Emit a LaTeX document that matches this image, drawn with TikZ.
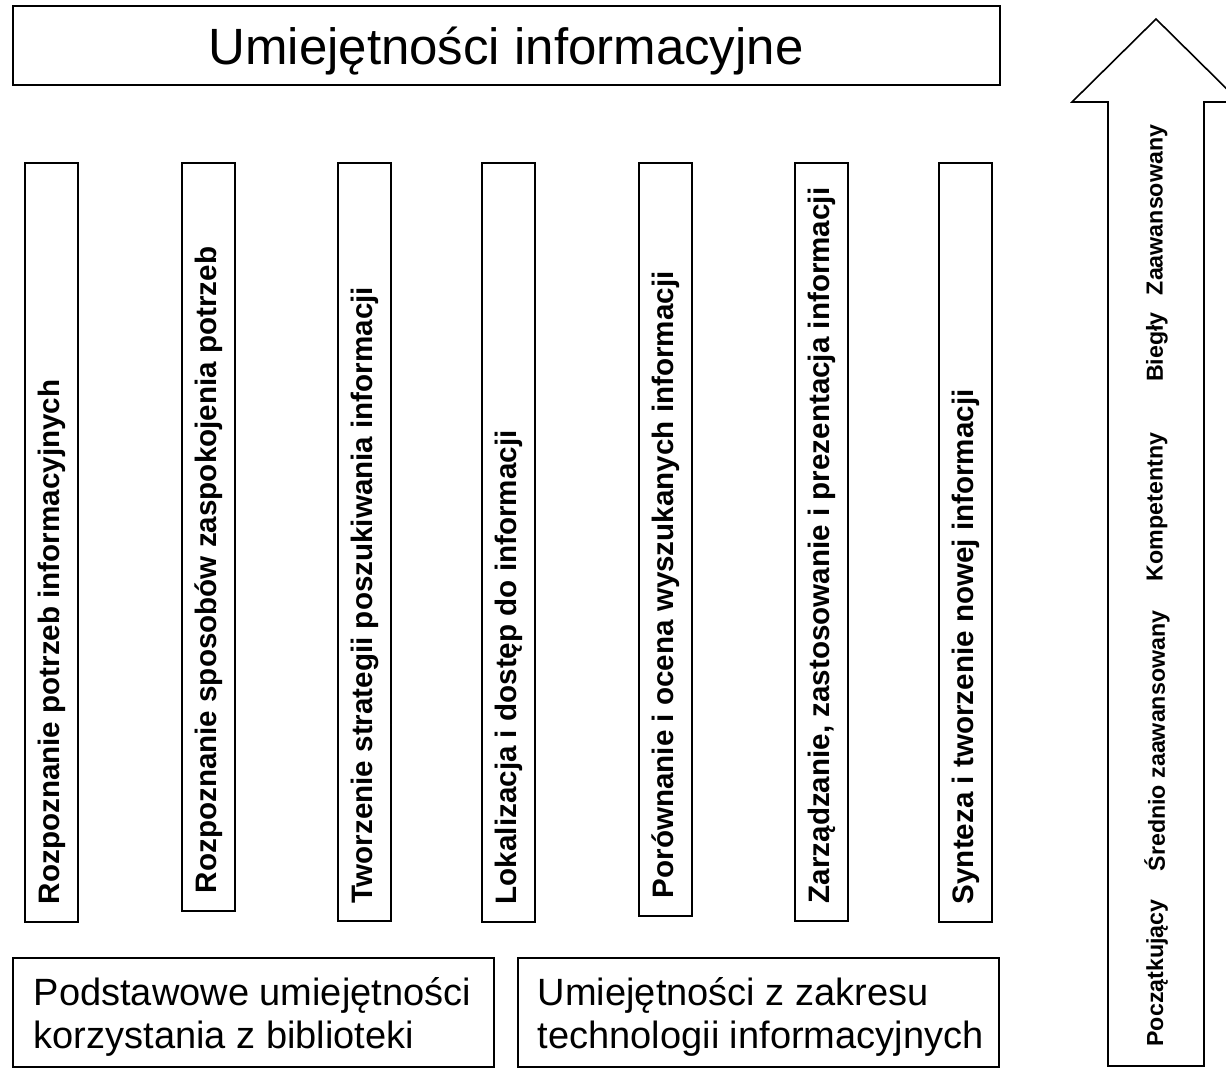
\documentclass[tikz,border=0pt]{standalone}
\usepackage{fontspec}
\setmainfont{Liberation Sans}
\usetikzlibrary{positioning}

\begin{document}
\begin{tikzpicture}[x=0.5pt,y=-0.5pt,line width=0.8pt,
	skill/.style={font=\bfseries\fontsize{14.8}{17}\selectfont,rotate=90,anchor=west,inner sep=0pt},
	level/.style={font=\bfseries\fontsize{11.6}{13}\selectfont,rotate=90,inner sep=0pt},
	base/.style={font=\fontsize{19}{21.5}\selectfont,align=left,anchor=north west,inner sep=0pt}]
	\useasboundingbox (0,0) rectangle (1226,1068);
	\draw (13,6) rectangle (1000,85); \node[font=\fontsize{25.5}{30}\selectfont,anchor=base] (title) at (506,65) {Umiejętności informacyjne};

	\draw (25,163) rectangle (78,922); \node[skill] (s1) at (51.5,905) {Rozpoznanie potrzeb informacyjnych};
	\draw (182,163) rectangle (235,911); \node[skill] (s2) at (208.5,894) {Rozpoznanie sposobów zaspokojenia potrzeb};
	\draw (338,163) rectangle (391,921); \node[skill] (s3) at (364.5,904) {Tworzenie strategii poszukiwania informacji};
	\draw (482,163) rectangle (535,922); \node[skill] (s4) at (508.5,905) {Lokalizacja i dostęp do informacji};
	\draw (639,163) rectangle (692,916); \node[skill] (s5) at (665.5,899) {Porównanie i ocena wyszukanych informacji};
	\draw (795,163) rectangle (848,921); \node[skill] (s6) at (821.5,904) {Zarządzanie, zastosowanie i prezentacja informacji};
	\draw (939,163) rectangle (992,922); \node[skill] (s7) at (965.5,905) {Synteza i tworzenie nowej informacji};

	\draw (13,958) rectangle (494,1067); \node[base] (lib) at (33,977) {Podstawowe umiejętności\\korzystania z biblioteki};
	\draw (518,958) rectangle (999,1067); \node[base] (tech) at (537,977) {Umiejętności z zakresu\\technologii informacyjnych};

	\draw (1108,1066) -- (1108,102) -- (1072,102) -- (1156,19) -- (1240,102) -- (1204,102) -- (1204,1066) -- cycle;
	\node[level] (lv1) at (1157,973) {Początkujący}; \node[level] (lv2) at (1157,741) {Średnio zaawansowany}; \node[level] (lv3) at (1157,507) {Kompetentny}; \node[level] (lv4) at (1157,347) {Biegły}; \node[level] (lv5) at (1157,210) {Zaawansowany};
\end{tikzpicture}
\end{document}
